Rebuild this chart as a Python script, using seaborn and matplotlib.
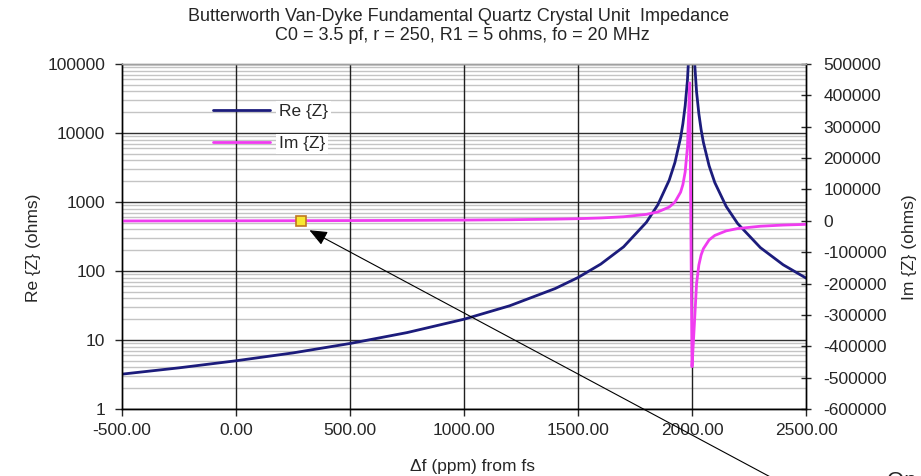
import numpy as np
import pandas as pd
import matplotlib
matplotlib.use("Agg")
import matplotlib.pyplot as plt
import seaborn as sns
from matplotlib.ticker import FixedLocator, LogLocator, FuncFormatter, NullFormatter

# ======================================
# DATA
# ======================================
delta_f_ppm = [-500, -250, 0, 250, 500, 750, 1000, 1200, 1400, 1500, 1600, 1700,
               1800, 1850, 1900, 1925, 1950, 1960, 1970, 1980, 1990, 2000, 2010,
               2020, 2030, 2040, 2050, 2075, 2100, 2150, 2200, 2300, 2400, 2500]

re_z = [3.2, 3.95, 5.0, 6.5, 8.9, 12.8, 20.0, 31.3, 55.7, 80.4, 126, 224,
        508, 909, 2070, 3725, 8573, 13600, 24800, 58000, 238800, 852400, 122000,
        39570, 19090, 11170, 7315, 3349, 1911, 862, 488, 218, 123, 79]

im_z = [-455, -253, 0, 325, 758, 1364, 2274, 3411, 5310, 6831, 9115, 12933,
        20601, 28314, 43865, 59566, 91320, 115430, 155670, 235200, 440000, -465000, -335000,
        -200200, -141160, -108890, -88730, -60886, -46581, -32034, -24671, -17255, -13526, -11282]

x_ticks = [-500, 0, 500, 1000, 1500, 2000, 2500]
re_ticks = [1, 10, 100, 1000, 10000, 100000]
im_ticks = [-600000, -500000, -400000, -300000, -200000, -100000, 0,
            100000, 200000, 300000, 400000, 500000]

marker_ppm = [285]
marker_im = [0]

title_lines = ["Butterworth Van-Dyke Fundamental Quartz Crystal Unit  Impedance",
               "C0 = 3.5 pf, r = 250, R1 = 5 ohms, fo = 20 MHz"]

df = pd.DataFrame({"df_ppm": delta_f_ppm, "re": re_z, "im": im_z})

# ======================================
# STYLE
# ======================================
sns.set_style("white")
plt.rcParams["font.family"] = ["Liberation Sans", "DejaVu Sans"]
FS = 12.5
NAVY = "#1c1c7c"
MAGENTA = "#f03cf0"

W, H = 921, 476
fig = plt.figure(figsize=(W / 100, H / 100), dpi=100)
ax = fig.add_axes([122 / W, 1 - 409 / H, 684 / W, 345 / H])
ax2 = ax.twinx()

# ======================================
# LINES
# ======================================
sns.lineplot(data=df, x="df_ppm", y="re", ax=ax, color=NAVY, lw=2,
             sort=False, estimator=None, label="Re {Z}", legend=False)
sns.lineplot(data=df, x="df_ppm", y="im", ax=ax2, color=MAGENTA, lw=2,
             sort=False, estimator=None, label="Im {Z}", legend=False)
ax2.plot(marker_ppm, marker_im, marker="s", ms=7, mfc="#f8e830", mec="#c07820",
         mew=1.2, ls="none", zorder=5)

# ======================================
# AXES
# ======================================
ax.set_xlim(-500, 2500)
ax.set_yscale("log")
ax.set_ylim(1, 100000)
ax2.set_ylim(-600000, 500000)

ax.xaxis.set_major_locator(FixedLocator(x_ticks))
ax.xaxis.set_major_formatter(FuncFormatter(lambda v, _: f"{v:.2f}"))
ax.yaxis.set_major_locator(FixedLocator(re_ticks))
ax.yaxis.set_major_formatter(FuncFormatter(lambda v, _: f"{v:.0f}"))
ax.yaxis.set_minor_locator(LogLocator(base=10, subs=np.arange(2, 10)))
ax.yaxis.set_minor_formatter(NullFormatter())
ax2.yaxis.set_major_locator(FixedLocator(im_ticks))
ax2.yaxis.set_major_formatter(FuncFormatter(lambda v, _: f"{v:.0f}"))

# horizontal grid from the log axis, vertical lines kept on top of the minor ones
ax.grid(True, which="major", axis="y", color="#303030", lw=1)
ax.grid(True, which="minor", axis="y", color="#c4c4c4", lw=1)
ax.set_axisbelow(True)
for xt in x_ticks[1:-1]:
    ax.axvline(xt, color="#202020", lw=1, zorder=0.8)

ax.tick_params(axis="x", which="major", direction="out", length=5, width=1,
               pad=5, labelsize=FS, bottom=True)
ax.tick_params(axis="y", which="major", direction="out", length=5, width=1,
               pad=7, labelsize=FS, left=True)
ax.tick_params(axis="y", which="minor", length=0)
ax2.tick_params(axis="y", direction="inout", length=7, width=1, pad=9,
                labelsize=FS, right=True)

for a in (ax, ax2):
    for s in a.spines.values():
        s.set_color("black")
        s.set_linewidth(1)
ax.spines["top"].set_color("#a0a0a0")
ax2.spines["top"].set_color("#a0a0a0")

ax.set_xlabel("\u0394f (ppm) from fs", fontsize=FS)
ax.set_ylabel("Re {Z} (ohms)", fontsize=FS)
ax2.set_ylabel("Im {Z} (ohms)", fontsize=FS)
ax.xaxis.set_label_coords(0.512, -0.145)
ax.yaxis.set_label_coords(-0.118, 0.468)
ax2.yaxis.set_label_coords(1.140, 0.468)

# ======================================
# LEGEND
# ======================================
handles = ax.get_lines()[:1] + ax2.get_lines()[:1]
leg = ax2.legend(handles=handles, labels=["Re {Z}", "Im {Z}"], loc="upper left",
                 bbox_to_anchor=(213 / W, 1 - 104 / H), bbox_transform=fig.transFigure,
                 frameon=False, fontsize=FS, handlelength=3.3, handletextpad=0.5,
                 labelspacing=0.98, borderpad=0, borderaxespad=0)
for t in leg.get_texts():
    t.set_bbox(dict(facecolor="white", edgecolor="none", pad=2))

# ======================================
# TITLE + ANNOTATION
# ======================================
fig.text(459 / W, 1 - 16.5 / H, title_lines[0], ha="center", va="center", fontsize=13)
fig.text(462 / W, 1 - 35 / H, title_lines[1], ha="center", va="center", fontsize=13)

ax2.annotate("", xy=(322, -30000), xycoords="data",
             xytext=(776 / W, -4 / H), textcoords="figure fraction",
             arrowprops=dict(arrowstyle="-|>,head_length=0.6,head_width=0.25",
                             color="black", lw=0.8,
                             mutation_scale=18, shrinkA=0, shrinkB=0),
             annotation_clip=False)
fig.text(887 / W, 1 - 471 / H, "Op", ha="left", va="top", fontsize=16)

fig.savefig("out.png", dpi=100)
